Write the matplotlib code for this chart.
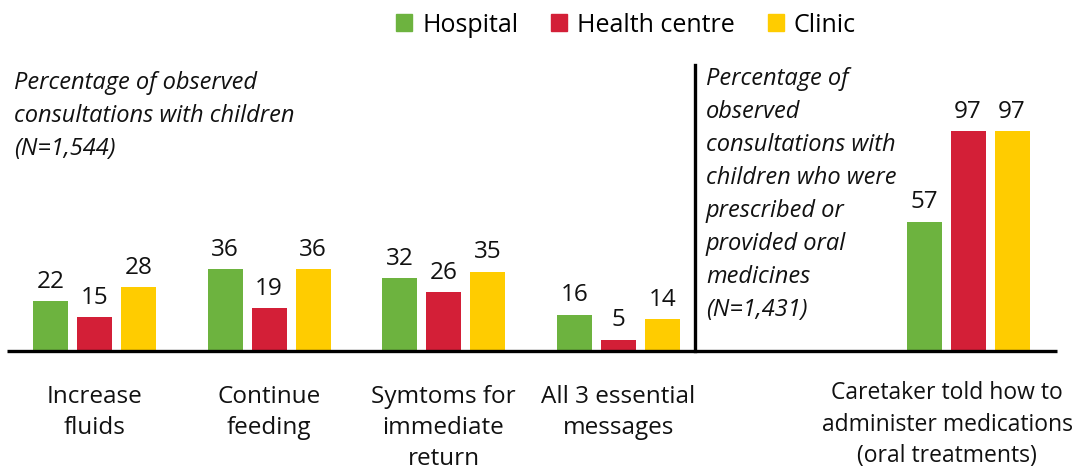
import matplotlib.pyplot as plt
import numpy as np
from matplotlib.patches import Patch

# data
categories = ["Increase\nfluids", "Continue\nfeeding", "Symtoms for\nimmediate\nreturn",
              "All 3 essential\nmessages"]
hospital = [22, 36, 32, 16]
health_centre = [15, 19, 26, 5]
clinic = [28, 36, 35, 14]

right_category = "Caretaker told how to\nadminister medications\n(oral treatments)"
right_hospital = [57]
right_health_centre = [97]
right_clinic = [97]

series_names = ["Hospital", "Health centre", "Clinic"]
colors = ["#6db33f", "#d31f37", "#ffcc00"]

W, H = 1082, 472
BASE = 351          # baseline pixel row
PPU = 2.27          # pixels per percentage point

plt.rcParams['font.family'] = ['Open Sans', 'DejaVu Sans']

fig = plt.figure(figsize=(W / 100, H / 100), dpi=100)
ax = fig.add_axes([0, 0, 1, 1])
ax.set_xlim(0, W)
ax.set_ylim(-(H - BASE) / PPU, BASE / PPU)
ax.axis('off')


def fy(py):
    return 1 - py / H


def fx(px):
    return px / W


centers = np.array([94.5, 269, 443.5, 618.5])
right_center = np.array([968])
bw, step = 35, 44

left_vals = [hospital, health_centre, clinic]
right_vals = [right_hospital, right_health_centre, right_clinic]
for i in range(3):
    for xs, vals in ((centers, left_vals[i]), (right_center, right_vals[i])):
        bars = ax.bar(xs + (i - 1) * step, vals, width=bw, color=colors[i], zorder=2)
        for b, v in zip(bars, vals):
            ax.annotate(str(v), (b.get_x() + b.get_width() / 2, v),
                        xytext=(0, 9.5), textcoords='offset points',
                        ha='center', va='baseline', fontsize=17.5, color='#111111')

# baseline and divider
ax.plot([7, 1057], [0, 0], color='black', lw=2.4, solid_capstyle='butt', zorder=3)
ax.plot([695, 695], [0, (BASE - 65) / PPU], color='black', lw=2.4, zorder=3)

# category labels
for c, lab in zip(centers, categories):
    fig.text(fx(c), fy(385), lab, ha='center', va='top', fontsize=17.5,
             linespacing=1.4, color='#111111')
fig.text(fx(947), fy(381), right_category, ha='center', va='top', fontsize=16.5,
         linespacing=1.42, color='#111111')

# notes
fig.text(fx(14), fy(71), "Percentage of observed\nconsultations with children\n(N=1,544)",
         ha='left', va='top', fontsize=17, style='italic', linespacing=1.5,
         color='#111111')
fig.text(fx(706), fy(67), "Percentage of\nobserved\nconsultations with\nchildren who were\n"
         "prescribed or\nprovided oral\nmedicines\n(N=1,431)",
         ha='left', va='top', fontsize=17, style='italic', linespacing=1.5,
         color='#111111')

# legend
handles = [Patch(color=c, label=n) for c, n in zip(colors, series_names)]
fig.legend(handles=handles, loc='center', bbox_to_anchor=(fx(626), fy(25)), ncol=3,
           frameon=False, fontsize=18, handlelength=0.65, handleheight=0.65,
           handletextpad=0.4, columnspacing=1.3, borderpad=0)

fig.savefig("out.png", dpi=100)
